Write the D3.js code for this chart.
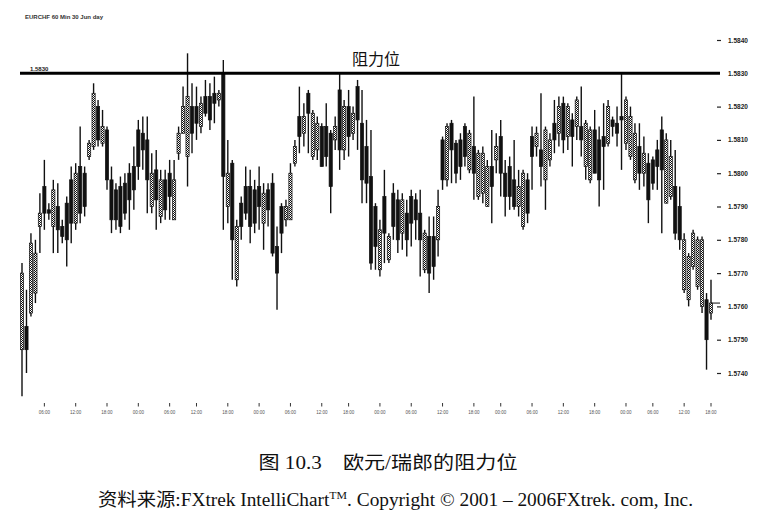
<!DOCTYPE html>
<html><head><meta charset="utf-8">
<script src="https://cdn.jsdelivr.net/npm/d3@7"></script>
<style>html,body{margin:0;padding:0;background:#fff;} svg{display:block}</style>
</head><body>
<svg id="c" width="782" height="516"></svg>
<script>
// ---- data (EUR/CHF candles) ----
const opens=[1.5747,1.5754,1.5758,1.5764,1.5784,1.5796,1.5789,1.5784,1.5790,1.5784,
1.5791,1.5798,1.5785,1.5802,1.5800,1.5805,1.5808,1.5820,1.5809,1.5813,
1.5798,1.5795,1.5796,1.5797,1.5800,1.5802,1.5813,1.5812,1.5810,1.5790,
1.5801,1.5787,1.5798,1.5800,1.5786,1.5806,1.5812,1.5805,1.5820,1.5820,
1.5814,1.5823,1.5823,1.5824,1.5822,1.5830,1.5790,1.5803,1.5768,1.5791,
1.5796,1.5796,1.5795,1.5796,1.5785,1.5795,1.5797,1.5778,1.5790,1.5786,
1.5786,1.5803,1.5817,1.5812,1.5824,1.5805,1.5807,1.5814,1.5814,1.5812,
1.5810,1.5825,1.5807,1.5820,1.5812,1.5826,1.5815,1.5808,1.5799,1.5790,
1.5771,1.5793,1.5774,1.5794,1.5792,1.5782,1.5788,1.5793,1.5792,1.5788,
1.5771,1.5781,1.5781,1.5780,1.5810,1.5798,1.5815,1.5809,1.5810,1.5814,
1.5801,1.5808,1.5793,1.5794,1.5790,1.5802,1.5804,1.5811,1.5800,1.5802,
1.5798,1.5790,1.5784,1.5798,1.5811,1.5808,1.5807,1.5798,1.5804,1.5815,
1.5812,1.5821,1.5811,1.5816,1.5814,1.5814,1.5802,1.5798,1.5813,1.5810,
1.5811,1.5809,1.5816,1.5815,1.5817,1.5809,1.5805,1.5798,1.5808,1.5800,
1.5803,1.5804,1.5807,1.5813,1.5791,1.5793,1.5796,1.5790,1.5765,1.5762,
1.5772,1.5766,1.5760,1.5762,1.5758];
const highs=[1.5773,1.5765,1.5782,1.5780,1.5794,1.5804,1.5791,1.5798,1.5797,1.5786,
1.5793,1.5802,1.5803,1.5814,1.5802,1.5810,1.5827,1.5822,1.5819,1.5814,
1.5802,1.5797,1.5799,1.5800,1.5803,1.5808,1.5816,1.5817,1.5817,1.5806,
1.5807,1.5801,1.5801,1.5804,1.5804,1.5814,1.5826,1.5836,1.5827,1.5826,
1.5823,1.5828,1.5827,1.5829,1.5825,1.5834,1.5810,1.5804,1.5786,1.5793,
1.5802,1.5801,1.5798,1.5802,1.5797,1.5797,1.5800,1.5784,1.5791,1.5792,
1.5803,1.5810,1.5826,1.5821,1.5825,1.5819,1.5817,1.5815,1.5821,1.5813,
1.5817,1.5830,1.5822,1.5825,1.5820,1.5828,1.5825,1.5816,1.5813,1.5791,
1.5786,1.5801,1.5782,1.5797,1.5795,1.5794,1.5792,1.5795,1.5794,1.5795,
1.5783,1.5787,1.5787,1.5795,1.5811,1.5815,1.5816,1.5810,1.5812,1.5815,
1.5813,1.5823,1.5807,1.5808,1.5804,1.5813,1.5812,1.5816,1.5804,1.5805,
1.5810,1.5801,1.5801,1.5800,1.5814,1.5814,1.5824,1.5814,1.5812,1.5822,
1.5823,1.5823,1.5821,1.5818,1.5823,1.5826,1.5816,1.5814,1.5819,1.5814,
1.5821,1.5822,1.5817,1.5820,1.5830,1.5823,1.5820,1.5815,1.5815,1.5811,
1.5806,1.5805,1.5810,1.5817,1.5812,1.5810,1.5807,1.5796,1.5782,1.5776,
1.5783,1.5781,1.5781,1.5764,1.5768];
const lows=[1.5733,1.5740,1.5757,1.5761,1.5776,1.5783,1.5786,1.5776,1.5776,1.5779,
1.5772,1.5779,1.5783,1.5785,1.5787,1.5804,1.5807,1.5808,1.5808,1.5795,
1.5782,1.5783,1.5782,1.5786,1.5783,1.5789,1.5798,1.5801,1.5788,1.5788,
1.5783,1.5785,1.5786,1.5786,1.5786,1.5804,1.5812,1.5796,1.5806,1.5810,
1.5812,1.5817,1.5813,1.5815,1.5820,1.5783,1.5785,1.5768,1.5766,1.5780,
1.5786,1.5779,1.5782,1.5783,1.5777,1.5784,1.5775,1.5759,1.5776,1.5784,
1.5786,1.5802,1.5806,1.5808,1.5806,1.5804,1.5804,1.5802,1.5802,1.5788,
1.5807,1.5801,1.5804,1.5805,1.5810,1.5807,1.5791,1.5791,1.5771,1.5771,
1.5769,1.5773,1.5773,1.5780,1.5776,1.5777,1.5775,1.5778,1.5780,1.5769,
1.5770,1.5764,1.5768,1.5775,1.5795,1.5796,1.5797,1.5797,1.5798,1.5802,
1.5800,1.5792,1.5792,1.5791,1.5790,1.5785,1.5800,1.5793,1.5787,1.5789,
1.5789,1.5787,1.5783,1.5785,1.5795,1.5805,1.5796,1.5789,1.5802,1.5806,
1.5808,1.5806,1.5807,1.5802,1.5810,1.5805,1.5798,1.5797,1.5800,1.5790,
1.5795,1.5808,1.5811,1.5808,1.5801,1.5807,1.5804,1.5797,1.5795,1.5796,
1.5785,1.5795,1.5795,1.5782,1.5791,1.5792,1.5780,1.5777,1.5764,1.5760,
1.5771,1.5765,1.5758,1.5741,1.5756];
const closes=[1.5770,1.5747,1.5779,1.5776,1.5788,1.5788,1.5788,1.5795,1.5783,1.5781,
1.5780,1.5785,1.5800,1.5788,1.5790,1.5809,1.5824,1.5810,1.5814,1.5798,
1.5786,1.5786,1.5784,1.5788,1.5792,1.5795,1.5802,1.5807,1.5798,1.5800,
1.5792,1.5798,1.5789,1.5793,1.5798,1.5812,1.5820,1.5823,1.5812,1.5815,
1.5821,1.5818,1.5816,1.5821,1.5824,1.5799,1.5800,1.5780,1.5784,1.5784,
1.5788,1.5784,1.5785,1.5790,1.5794,1.5789,1.5776,1.5770,1.5782,1.5790,
1.5800,1.5808,1.5811,1.5817,1.5818,1.5818,1.5815,1.5802,1.5805,1.5796,
1.5814,1.5807,1.5820,1.5811,1.5818,1.5816,1.5798,1.5797,1.5773,1.5778,
1.5783,1.5782,1.5781,1.5784,1.5780,1.5792,1.5780,1.5785,1.5786,1.5780,
1.5782,1.5770,1.5772,1.5790,1.5798,1.5814,1.5807,1.5800,1.5802,1.5805,
1.5812,1.5800,1.5806,1.5806,1.5802,1.5796,1.5808,1.5800,1.5793,1.5793,
1.5790,1.5796,1.5800,1.5788,1.5805,1.5812,1.5802,1.5813,1.5810,1.5810,
1.5820,1.5810,1.5820,1.5811,1.5822,1.5810,1.5815,1.5813,1.5800,1.5798,
1.5808,1.5820,1.5814,1.5812,1.5816,1.5822,1.5817,1.5812,1.5800,1.5806,
1.5792,1.5797,1.5802,1.5801,1.5810,1.5805,1.5782,1.5780,1.5780,1.5775,
1.5782,1.5780,1.5780,1.5750,1.5761];
const priceTicks=[1.5740,1.5750,1.5760,1.5770,1.5780,1.5790,1.5800,1.5810,1.5820,1.5830,1.5840];
const timeTickIdx=[5,12,19,26,33,39,46,53,60,67,73,80,87,94,101,107,114,121,128,135,141,148,154];
const timeTickLabels=["06:00","12:00","18:00","00:00","06:00","12:00","18:00","00:00","06:00","12:00","18:00","00:00",
"06:00","12:00","18:00","00:00","06:00","12:00","18:00","00:00","06:00","12:00","18:00"];
const resistance=1.5830;
const lastPrice=1.5761;
const headerText="EURCHF  60 Min  30 Jun  day";
const resistanceLabel="阻力位";
const figTitle="图 10.3　欧元/瑞郎的阻力位";

// ---- drawing ----
const svg=d3.select("#c");
const n=opens.length;
const x=d3.scaleLinear().domain([0,n-1]).range([22,711]);
const y=d3.scaleLinear().domain([1.5740,1.5840]).range([373,40]);
const bodyW=3.2;

const defs=svg.append("defs");
const pat=defs.append("pattern").attr("id","hatch").attr("width",2).attr("height",2)
  .attr("patternUnits","userSpaceOnUse");
pat.append("rect").attr("width",2).attr("height",2).attr("fill","#fff");
pat.append("rect").attr("width",1).attr("height",1).attr("fill","#111");
pat.append("rect").attr("x",1).attr("y",1).attr("width",1).attr("height",1).attr("fill","#111");

const idx=d3.range(n);
const g=svg.append("g");
g.selectAll("line.wick").data(idx).join("line").attr("class","wick")
  .attr("x1",i=>x(i)).attr("x2",i=>x(i))
  .attr("y1",i=>y(highs[i])).attr("y2",i=>y(lows[i]))
  .attr("stroke","#111").attr("stroke-width",1.4);
g.selectAll("rect.body").data(idx).join("rect").attr("class","body")
  .attr("x",i=>x(i)-bodyW/2).attr("width",bodyW)
  .attr("y",i=>y(Math.max(opens[i],closes[i])))
  .attr("height",i=>Math.max(1,Math.abs(y(opens[i])-y(closes[i]))))
  .attr("fill",i=>closes[i]>opens[i]?"url(#hatch)":"#111")
  .attr("stroke","#111").attr("stroke-width",0.7);

// last price marker
svg.append("line").attr("x1",x(n-1)).attr("x2",720)
  .attr("y1",y(lastPrice)).attr("y2",y(lastPrice)).attr("stroke","#111").attr("stroke-width",1);

// resistance line
svg.append("line").attr("x1",20).attr("x2",720)
  .attr("y1",y(resistance)).attr("y2",y(resistance))
  .attr("stroke","#000").attr("stroke-width",3);
svg.append("text").attr("x",30).attr("y",y(resistance)-2.5)
  .attr("font-family","Liberation Sans, Arial, sans-serif").attr("font-size",6).attr("font-weight","bold")
  .attr("fill","#222").text(d3.format(".4f")(resistance));
svg.append("text").attr("x",376).attr("y",y(resistance)-8).attr("text-anchor","middle")
  .attr("font-family","Noto Sans CJK SC, sans-serif").attr("font-size",16).attr("fill","#111")
  .text(resistanceLabel);

// right price axis
const ya=svg.append("g").attr("transform","translate(717,0)")
  .call(d3.axisRight(y).tickValues(priceTicks).tickSize(4).tickPadding(7).tickFormat(d3.format(".4f")));
ya.select(".domain").remove();
ya.selectAll(".tick line").attr("stroke","#222").attr("stroke-width",1.2)
  .attr("opacity",d=>d===resistance?0:1);
ya.selectAll(".tick text").attr("font-family","Liberation Sans, Arial, sans-serif")
  .attr("font-size",6.5).attr("font-weight","bold").attr("fill","#222");

// bottom time axis
const xt=svg.append("g");
xt.selectAll("line").data(timeTickIdx).join("line")
  .attr("x1",i=>x(i)).attr("x2",i=>x(i)).attr("y1",403).attr("y2",406.5)
  .attr("stroke","#333").attr("stroke-width",1);
xt.selectAll("text").data(timeTickIdx).join("text")
  .attr("x",i=>x(i)).attr("y",414).attr("text-anchor","middle")
  .attr("font-family","Liberation Sans, Arial, sans-serif").attr("font-size",4.5).attr("fill","#555")
  .text((d,k)=>timeTickLabels[k]);

// header
svg.append("text").attr("x",25).attr("y",19)
  .attr("font-family","Liberation Sans, Arial, sans-serif").attr("font-size",6).attr("font-weight","bold")
  .attr("fill","#333").text(headerText);

// captions
svg.append("text").attr("x",388).attr("y",469).attr("text-anchor","middle")
  .attr("font-family","Liberation Serif, Noto Sans CJK SC, serif").attr("font-size",18).attr("fill","#111")
  .attr("textLength",259).attr("lengthAdjust","spacingAndGlyphs")
  .text(figTitle);
const src=svg.append("text").attr("x",98).attr("y",506)
  .attr("font-family","Liberation Serif, Noto Sans CJK SC, serif").attr("font-size",18).attr("fill","#111")
  .attr("textLength",595).attr("lengthAdjust","spacingAndGlyphs");
src.append("tspan").text("资料来源:FXtrek IntelliChart");
src.append("tspan").attr("font-size",11).attr("dy",-7).text("TM");
src.append("tspan").attr("dy",7).text(". Copyright © 2001 – 2006FXtrek. com, Inc.");
</script>
</body></html>
